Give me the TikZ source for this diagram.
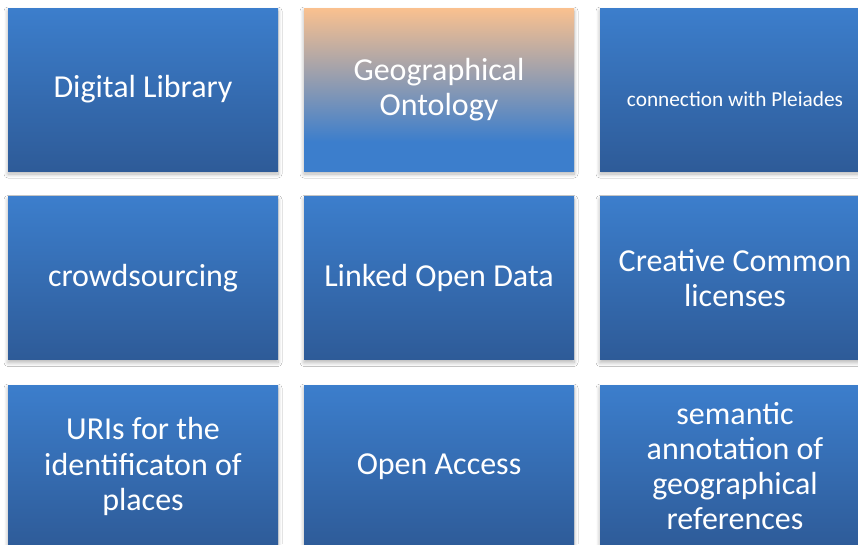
\documentclass[tikz,border=0pt]{standalone}
\usepackage{fontspec}
\setmainfont{Carlito}
\usetikzlibrary{shadows.blur}

\definecolor{tiletop}{RGB}{60,126,204}
\definecolor{tilebottom}{RGB}{46,91,152}
\definecolor{tilepeach}{RGB}{250,193,143}
\pgfdeclareverticalshading{ontoshade}{100bp}{color(0bp)=(tiletop); color(34bp)=(tiletop); color(75bp)=(tilepeach); color(100bp)=(tilepeach)}

\tikzset{
	tile/.style={minimum width=270pt, minimum height=163pt, inner sep=0pt,
		top color=tiletop, bottom color=tilebottom, text=white, align=center,
		blur shadow={shadow xshift=0pt, shadow yshift=-3pt, shadow blur radius=4pt, shadow blur steps=8, shadow opacity=30},
		font=\fontsize{32}{35.5}\selectfont},
	ontotile/.style={tile, shading=ontoshade}
}

\begin{document}
\begin{tikzpicture}[x=1pt, y=-1pt]
	\clip (0, 0) rectangle (858, 544);
	\fill[white] (0, 0) rectangle (858, 544);
	%first row
	\node[tile] (dl) at (143, 89.5) {Digital Library};
	\node[ontotile] (geo) at (439, 89.5) {Geographical\\Ontology};
	\node[tile, font=\fontsize{21.3}{25}\selectfont] (pleiades) at (735, 89.5) {\raisebox{-16.5pt}[0pt][0pt]{connection with Pleiades}};
	%second row
	\node[tile] (crowd) at (143, 278) {crowdsourcing};
	\node[tile] (lod) at (439, 278) {Linked Open Data};
	\node[tile] (cc) at (735, 278) {Creative Common\\licenses};
	%third row
	\node[tile] (uri) at (143, 466.5) {URIs for the\\identificaton of\\places};
	\node[tile] (oa) at (439, 466.5) {Open Access};
	\node[tile, font=\fontsize{32}{35}\selectfont] (sem) at (735, 466.5) {semantic\\annotation of\\geographical\\references};
\end{tikzpicture}
\end{document}
